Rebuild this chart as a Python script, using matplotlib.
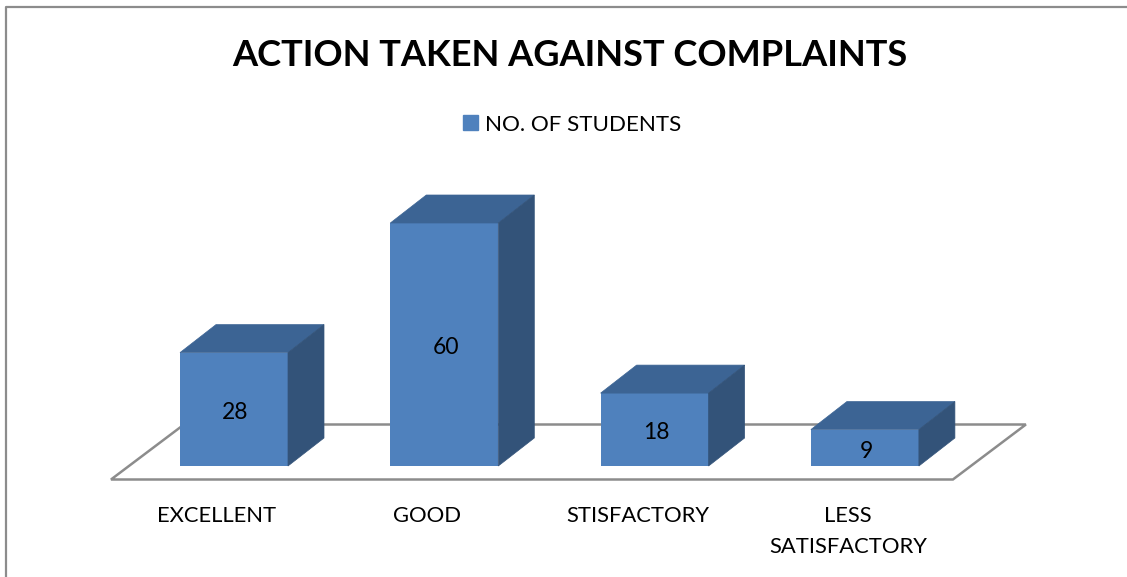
#!/usr/bin/env python3
import matplotlib
matplotlib.use("Agg")
import matplotlib.pyplot as plt
from matplotlib.patches import Polygon, Rectangle

plt.rcParams['font.family'] = ['Lato', 'DejaVu Sans']

categories = ["EXCELLENT", "GOOD", "STISFACTORY", "LESS\nSATISFACTORY"]
students = [28, 60, 18, 9]
series_name = "NO. OF STUDENTS"
title = "ACTION TAKEN AGAINST COMPLAINTS"

W, H = 1127, 577
px_x = 210.3      # pixels per category
px_y = 4.05       # pixels per student
x0_px = 234.0     # first category centre
y0_px = 466.0     # baseline
bar_w = 108 / px_x
dx = 36 / px_x    # 3d depth offset
dy = 28 / px_y

front = "#4f81bd"
top = "#3c6494"
side = "#335379"
grey = "#8c8c8c"

fig = plt.figure(figsize=(W / 100, H / 100), dpi=100)
ax = fig.add_axes([0, 0, 1, 1])
ax.set_xlim(-x0_px / px_x, (W - x0_px) / px_x)
ax.set_ylim(-(H - y0_px) / px_y, y0_px / px_y)
ax.axis("off")

# chart border, only top and left are in the crop
fig.add_artist(plt.Line2D([5.5 / W, 5.5 / W, 1], [0, 1 - 6.5 / H, 1 - 6.5 / H], color=grey, lw=1.6))

# floor
n = len(categories)
fl = -13.5 / px_y
fx1 = -123 / px_x
fx2 = n - 1 + 88 / px_x
fdx = 73 / px_x
fdy = 55 / px_y
ax.add_patch(Polygon([(fx1, fl), (fx2, fl), (fx2 + fdx, fl + fdy), (fx1 + fdx, fl + fdy)],
                     closed=True, fill=False, edgecolor=grey, lw=1.8, zorder=1))

bars = ax.bar(range(n), students, width=bar_w, color=front, zorder=3)
for i, v in enumerate(students):
    l = i - bar_w / 2
    r = i + bar_w / 2
    ax.add_patch(Polygon([(l, v), (r, v), (r + dx, v + dy), (l + dx, v + dy)], color=top, lw=0.5, zorder=3))
    ax.add_patch(Polygon([(r, 0), (r + dx, dy), (r + dx, v + dy), (r, v)], color=side, lw=0.5, zorder=3))
    ax.text(i + 1.5 / px_x, v / 2 - 0.8, str(v), ha="center", va="center", fontsize=16.5, color="black", zorder=4)
    # two line label is centred lower
    label_y = 531.5 if "\n" in categories[i] else 516
    ax.text(i - 17 / px_x, -(label_y - y0_px) / px_y, categories[i], ha="center", va="center",
            fontsize=15.8, color="black", linespacing=1.65)

# legend
ax.add_patch(Rectangle(((463 - x0_px) / px_x, (y0_px - 130) / px_y), 15 / px_x, 15 / px_y, color=front))
ax.text((485 - x0_px) / px_x, (y0_px - 125) / px_y, series_name, ha="left", va="center", fontsize=16.1)

ax.text((569.5 - x0_px) / px_x, (y0_px - 55) / px_y, title, ha="center", va="center",
        fontsize=26.1, fontweight="bold")

fig.savefig("out.png", dpi=100)
